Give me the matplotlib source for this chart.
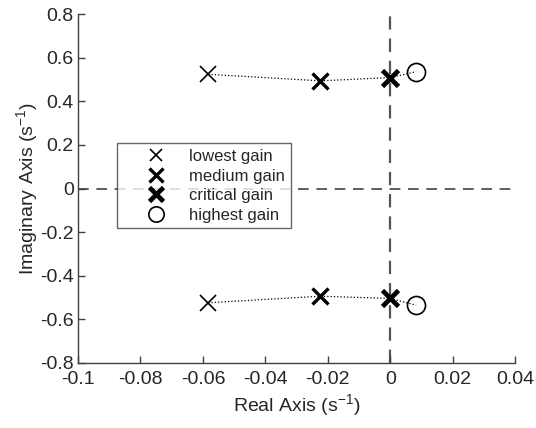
import matplotlib
matplotlib.use("Agg")
import matplotlib.pyplot as plt

plt.rcParams['font.family'] = ['Liberation Sans', 'DejaVu Sans']
plt.rcParams['mathtext.fontset'] = 'custom'
plt.rcParams['mathtext.rm'] = 'Liberation Sans'
plt.rcParams['mathtext.it'] = 'Liberation Sans:italic'

# pole locations for each gain (real, imag)
gains = ['lowest gain', 'medium gain', 'critical gain', 'highest gain']
re_upper = [-0.0583, -0.0224, 0.0, 0.0083]
im_upper = [0.524, 0.494, 0.509, 0.536]
re_lower = [-0.0583, -0.0224, 0.0, 0.0083]
im_lower = [-0.524, -0.494, -0.504, -0.535]

markers = ['x', 'x', 'x', 'o']
msizes = [11, 12, 12, 13]
mwidths = [1.2, 2.4, 3.4, 1.2]

fig = plt.figure(figsize=(5.36, 4.28), dpi=100)
ax = fig.add_axes([0.1455, 0.152, 0.8155, 0.815])

ax.axhline(0, color='#333333', ls=(0, (7, 5)), lw=1.1, zorder=1)
ax.axvline(0, color='#555555', ls=(0, (6, 4)), lw=1.6, zorder=1)

ax.plot(re_upper, im_upper, ls=':', color='black', lw=0.9, zorder=2)
ax.plot(re_lower, im_lower, ls=':', color='black', lw=0.9, zorder=2)

for i in range(len(gains)):
    ax.plot([re_upper[i], re_lower[i]], [im_upper[i], im_lower[i]],
            ls='none', marker=markers[i], ms=msizes[i], mew=mwidths[i],
            mec='black', mfc='none', label=gains[i], zorder=3)

ax.set_xlim(-0.1, 0.04)
ax.set_ylim(-0.8, 0.8)
ax.set_xticks([-0.1, -0.08, -0.06, -0.04, -0.02, 0, 0.02, 0.04])
ax.set_xticklabels(['-0.1', '-0.08', '-0.06', '-0.04', '-0.02', '0', '0.02', '0.04'])
ax.set_yticks([-0.8, -0.6, -0.4, -0.2, 0, 0.2, 0.4, 0.6, 0.8])
ax.set_yticklabels(['-0.8', '-0.6', '-0.4', '-0.2', '0', '0.2', '0.4', '0.6', '0.8'])

for s in ['top', 'right']:
    ax.spines[s].set_visible(False)
for s in ['left', 'bottom']:
    ax.spines[s].set_color('#404040')
    ax.spines[s].set_linewidth(1.0)
ax.tick_params(direction='in', length=5, width=1, colors='#404040',
               labelcolor='#262626', labelsize=14)
ax.tick_params(axis='x', pad=6)
ax.tick_params(axis='y', pad=3)

ax.set_xlabel('Real Axis (s$^{-1}$)', fontsize=14, color='#262626', labelpad=3)
ax.set_ylabel('Imaginary Axis (s$^{-1}$)', fontsize=14, color='#262626', labelpad=0)

leg = ax.legend(loc='upper left', bbox_to_anchor=(0.089, 0.63), borderaxespad=0,
                fontsize=12, frameon=True, fancybox=False, handlelength=4.0,
                handletextpad=0.0, labelspacing=0.27, borderpad=0.35,
                markerscale=0.85)
leg.get_frame().set_edgecolor('#404040')
leg.get_frame().set_linewidth(1.0)
for t in leg.get_texts():
    t.set_color('#262626')

fig.savefig('out.png', dpi=100)
